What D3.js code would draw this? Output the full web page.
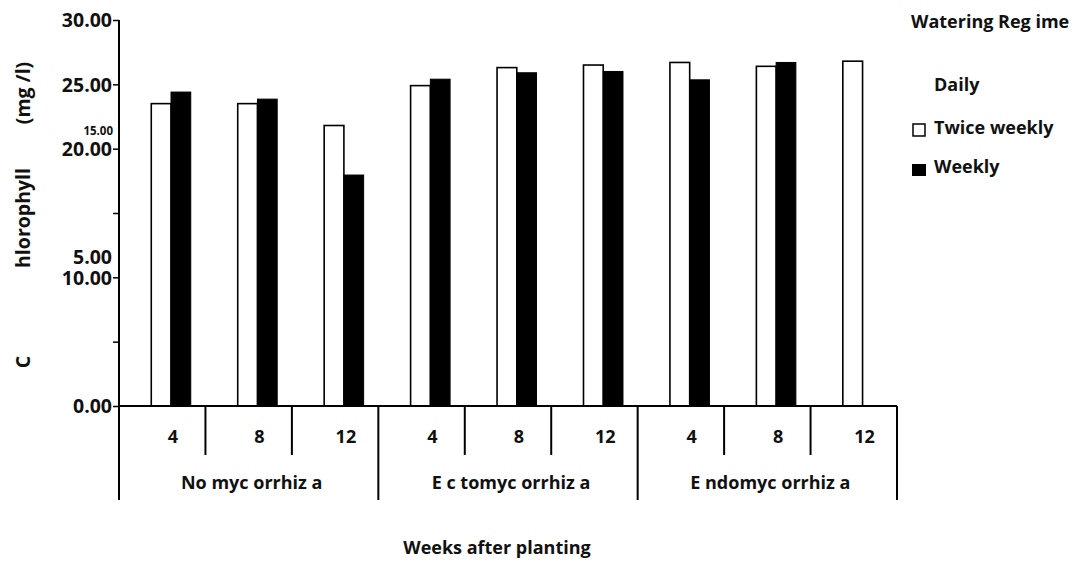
<!DOCTYPE html>
<html>
<head>
<meta charset="utf-8">
<script src="https://cdn.jsdelivr.net/npm/d3@7"></script>
<style>
  body { margin: 0; background: #fff; }
  svg text { font-family: "Open Sans", sans-serif; font-weight: bold; fill: #111; white-space: pre; }
</style>
</head>
<body>
<svg id="chart" width="1079" height="566"></svg>
<script>
// ---- data ----
const groups = ["No myc orrhiz a", "E c tomyc orrhiz a", "E ndomyc orrhiz a"];
const weeks = ["4", "8", "12"];
const seriesNames = ["Daily", "Twice weekly", "Weekly"];
const twiceWeekly = [23.5, 23.5, 21.8, 24.9, 26.3, 26.5, 26.7, 26.4, 26.8];
const weekly = [24.4, 23.85, 17.95, 25.4, 25.9, 26.0, 25.35, 26.7, null];
const yTicks = [0, 5, 10, 15, 20, 25, 30];
const yTitleParts = ["C", "hlorophyll", "(mg /l)"];

// ---- layout ----
const svg = d3.select("#chart");
const pLeft = 119, pRight = 897, pTop = 20, pBottom = 406;
const FS = "18px", FS_AX = "19.5px";

const cats = [];
groups.forEach((g, gi) => weeks.forEach((w, wi) => cats.push({ g, w, gi, i: gi * weeks.length + wi })));

const x0 = d3.scaleBand().domain(cats.map(c => c.i)).range([pLeft, pRight]).padding(0);
const bw = x0.bandwidth();
const x1 = d3.scaleBand().domain(seriesNames).range([bw * 0.145, bw * 0.83]).padding(0);
const y = d3.scaleLinear().domain([0, 30]).range([pBottom, pTop]);

// ---- bars ----
const rows = cats.map(c => ({ ...c, tw: twiceWeekly[c.i], wk: weekly[c.i] }));
const gb = svg.append("g");
gb.selectAll("rect.tw").data(rows.filter(d => d.tw != null)).join("rect")
  .attr("class", "tw")
  .attr("x", d => x0(d.i) + x1("Twice weekly"))
  .attr("y", d => y(d.tw))
  .attr("width", x1.bandwidth())
  .attr("height", d => pBottom - y(d.tw))
  .attr("fill", "#fff").attr("stroke", "#000").attr("stroke-width", 1.6);
gb.selectAll("rect.wk").data(rows.filter(d => d.wk != null)).join("rect")
  .attr("class", "wk")
  .attr("x", d => x0(d.i) + x1("Weekly"))
  .attr("y", d => y(d.wk))
  .attr("width", x1.bandwidth())
  .attr("height", d => pBottom - y(d.wk))
  .attr("fill", "#000").attr("stroke", "#000").attr("stroke-width", 1);

// ---- y axis ----
const fmt = d3.format(".2f");
const yAxis = d3.axisLeft(y).tickValues(yTicks).tickSize(6).tickPadding(1)
  .tickFormat(v => (v === 5 || v === 15) ? "" : fmt(v));
const ya = svg.append("g").attr("transform", `translate(${pLeft},0)`).call(yAxis);
ya.select(".domain").remove();
ya.selectAll(".tick line").attr("stroke", "#000").attr("stroke-width", 1.5);
ya.selectAll(".tick text").style("font-size", FS_AX).attr("fill", "#111").attr("dy", "0.35em");
// displaced labels (as in the reference)
svg.append("text").attr("x", pLeft - 6).attr("y", y(20) - 14).attr("text-anchor", "end")
  .style("font-size", "11.5px").text(fmt(15));
svg.append("text").attr("x", pLeft - 7).attr("y", y(10) - 20).attr("dy", "0.35em").attr("text-anchor", "end")
  .style("font-size", FS_AX).text(fmt(5));
// axis line
svg.append("line").attr("x1", pLeft).attr("x2", pLeft).attr("y1", pTop).attr("y2", 500)
  .attr("stroke", "#000").attr("stroke-width", 2);

// ---- x axis ----
svg.append("line").attr("x1", pLeft).attr("x2", pRight).attr("y1", pBottom).attr("y2", pBottom)
  .attr("stroke", "#000").attr("stroke-width", 2);
// week dividers
cats.forEach(c => {
  const xr = x0(c.i) + bw;
  const isGroupEnd = (c.i + 1) % weeks.length === 0;
  svg.append("line").attr("x1", xr).attr("x2", xr).attr("y1", pBottom).attr("y2", isGroupEnd ? 500 : 455)
    .attr("stroke", "#000").attr("stroke-width", 2);
});
// week labels
svg.selectAll("text.wk").data(cats).join("text").attr("class", "wk")
  .attr("x", d => x0(d.i) + (x1("Twice weekly") + x1("Weekly") + x1.bandwidth()) / 2 + 2)
  .attr("y", 437).attr("dy", "0.35em").attr("text-anchor", "middle")
  .style("font-size", FS).text(d => d.w);
// group labels
groups.forEach((gname, gi) => {
  const xs = x0(gi * weeks.length), xe = x0(gi * weeks.length + weeks.length - 1) + bw;
  svg.append("text").attr("x", (xs + xe) / 2 + 3).attr("y", 483).attr("dy", "0.35em")
    .attr("text-anchor", "middle").style("font-size", FS).text(gname);
});

// ---- titles ----
svg.append("text").attr("x", 497).attr("y", 548).attr("dy", "0.35em").attr("text-anchor", "middle")
  .style("font-size", FS).text("Weeks after planting");
const yPos = [362, 218, 93];
yTitleParts.forEach((t, k) => {
  svg.append("text").attr("transform", `translate(23,${yPos[k]}) rotate(-90)`)
    .attr("dy", "0.35em").attr("text-anchor", "middle").style("font-size", FS_AX).text(t);
});

// ---- legend ----
svg.append("text").attr("x", 911).attr("y", 22).attr("dy", "0.35em").style("font-size", FS)
  .text("Watering Reg ime");
const legendY = [85, 128, 167];
seriesNames.forEach((s, k) => {
  svg.append("text").attr("x", 934).attr("y", legendY[k]).attr("dy", "0.35em").style("font-size", FS).text(s);
  if (s === "Twice weekly") {
    svg.append("rect").attr("x", 913).attr("y", legendY[k] - 4).attr("width", 12).attr("height", 12)
      .attr("fill", "#fff").attr("stroke", "#000").attr("stroke-width", 1.5);
  } else if (s === "Weekly") {
    svg.append("rect").attr("x", 912).attr("y", legendY[k] - 3).attr("width", 14).attr("height", 12)
      .attr("fill", "#000");
  }
});
</script>
</body>
</html>
